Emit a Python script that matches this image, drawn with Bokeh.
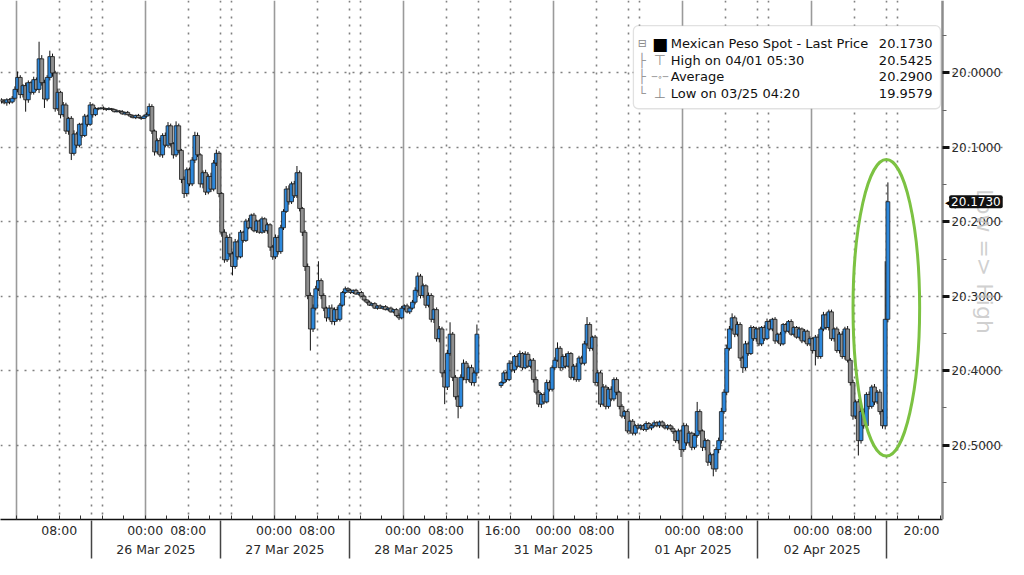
import math
from bokeh.plotting import figure
from bokeh.models import (Range1d, LinearAxis, FixedTicker, Grid, Label,
                          BoxAnnotation, ColumnDataSource)
from bokeh.embed import file_html
from bokeh.resources import INLINE

# ---------------- data (30-minute bars, USD/MXN) ----------------
# hours on a trading-time axis (0 = 25 Mar 00:00, weekend gap removed)
seg_a_start = -3.0
seg_b_start = 90.0
bar_hours = 0.5

open_a_first = 20.036
close_a = [
    20.038, 20.040, 20.036, 20.039, 20.034, 20.022, 20.006, 20.029, 20.017, 20.036,
    20.013, 20.026, 20.009, 20.022, 19.981, 20.013, 20.035, 20.006, 19.978, 20.000,
    20.048, 20.026, 20.056, 20.043, 20.078, 20.061, 20.108, 20.082, 20.097, 20.069,
    20.084, 20.058, 20.069, 20.043, 20.056, 20.048, 20.048, 20.047, 20.048, 20.049,
    20.048, 20.049, 20.052, 20.051, 20.052, 20.055, 20.053, 20.056, 20.058, 20.060,
    20.057, 20.060, 20.061, 20.058, 20.056, 20.045, 20.078, 20.106, 20.091, 20.110,
    20.084, 20.097, 20.071, 20.095, 20.110, 20.071, 20.104, 20.143, 20.162, 20.130,
    20.149, 20.117, 20.084, 20.110, 20.149, 20.134, 20.160, 20.139, 20.156, 20.121,
    20.108, 20.162, 20.214, 20.251, 20.221, 20.243, 20.260, 20.227, 20.247, 20.214,
    20.225, 20.199, 20.208, 20.191, 20.212, 20.199, 20.214, 20.196, 20.212, 20.204,
    20.234, 20.247, 20.221, 20.240, 20.208, 20.186, 20.156, 20.173, 20.149, 20.165,
    20.134, 20.182, 20.214, 20.260, 20.299, 20.344, 20.316, 20.290, 20.279, 20.299,
    20.316, 20.329, 20.316, 20.334, 20.318, 20.331, 20.312, 20.295, 20.290, 20.292,
    20.295, 20.292, 20.297, 20.295, 20.300, 20.305, 20.308, 20.312, 20.310, 20.316,
    20.313, 20.316, 20.314, 20.318, 20.316, 20.321, 20.318, 20.326, 20.329, 20.316,
    20.313, 20.321, 20.316, 20.308, 20.292, 20.273, 20.299, 20.286, 20.312, 20.299,
    20.331, 20.318, 20.357, 20.344, 20.403, 20.422, 20.377, 20.351, 20.409, 20.435,
    20.448, 20.409, 20.390, 20.412, 20.396, 20.416, 20.403, 20.351,
]
# wick lengths beyond the body, in thousandths (toward lower / higher price)
wick_lo_a = [
    2, 3, 2, 2, 3, 4, 8, 3, 2, 4,
    3, 2, 4, 3, 23, 5, 4, 3, 8, 4,
    3, 5, 2, 4, 3, 2, 3, 5, 3, 2,
    2, 3, 2, 4, 2, 2, 2, 1, 2, 1,
    2, 1, 1, 2, 1, 2, 1, 2, 1, 2,
    1, 2, 1, 2, 3, 4, 3, 2, 3, 4,
    3, 4, 5, 3, 2, 6, 3, 2, 4, 3,
    3, 4, 5, 4, 2, 3, 4, 3, 5, 4,
    5, 3, 2, 4, 3, 5, 3, 4, 3, 3,
    2, 3, 4, 2, 3, 2, 2, 3, 2, 3,
    2, 3, 4, 3, 4, 3, 4, 5, 3, 4,
    9, 3, 2, 3, 4, 4, 5, 4, 26, 3,
    3, 2, 4, 5, 3, 4, 3, 2, 3, 2,
    2, 1, 2, 1, 2, 2, 1, 2, 1, 2,
    1, 2, 1, 2, 1, 2, 1, 2, 3, 3,
    2, 3, 2, 3, 4, 5, 3, 3, 2, 4,
    3, 2, 3, 4, 3, 4, 5, 16, 3, 3,
    2, 4, 5, 3, 3, 4, 3, 13,
]
wick_hi_a = [
    3, 2, 4, 3, 2, 3, 4, 5, 4, 16,
    4, 3, 3, 2, 5, 4, 12, 3, 4, 5,
    4, 3, 5, 3, 4, 5, 9, 3, 4, 3,
    3, 2, 3, 2, 4, 2, 2, 1, 2, 2,
    1, 2, 1, 1, 2, 1, 2, 1, 2, 1,
    2, 1, 2, 1, 2, 2, 4, 5, 3, 3,
    4, 3, 3, 4, 5, 3, 4, 5, 6, 4,
    3, 3, 4, 3, 5, 6, 4, 3, 4, 3,
    4, 5, 6, 4, 3, 4, 12, 3, 4, 2,
    3, 2, 2, 3, 2, 3, 2, 2, 3, 4,
    5, 4, 3, 4, 3, 3, 2, 4, 3, 3,
    3, 4, 5, 6, 5, 29, 4, 3, 3, 5,
    4, 5, 3, 4, 5, 3, 3, 2, 2, 3,
    2, 2, 1, 2, 1, 2, 2, 1, 2, 1,
    2, 1, 2, 1, 2, 1, 2, 2, 3, 2,
    3, 2, 3, 2, 3, 3, 4, 3, 4, 3,
    4, 5, 4, 5, 6, 23, 4, 3, 5, 4,
    16, 3, 4, 5, 3, 4, 5, 4,
]

open_b_first = 20.420
close_b = [
    20.416, 20.403, 20.412, 20.390, 20.399, 20.381, 20.394, 20.377, 20.396, 20.378,
    20.394, 20.386, 20.412, 20.429, 20.445, 20.432, 20.442, 20.416, 20.425, 20.396,
    20.386, 20.370, 20.396, 20.381, 20.394, 20.377, 20.409, 20.394, 20.412, 20.383,
    20.390, 20.364, 20.338, 20.370, 20.355, 20.416, 20.403, 20.445, 20.422, 20.448,
    20.425, 20.438, 20.412, 20.429, 20.448, 20.461, 20.455, 20.481, 20.468, 20.484,
    20.474, 20.477, 20.474, 20.479, 20.471, 20.477, 20.474, 20.470, 20.474, 20.469,
    20.474, 20.477, 20.474, 20.478, 20.482, 20.494, 20.481, 20.506, 20.474, 20.497,
    20.484, 20.503, 20.487, 20.455, 20.481, 20.503, 20.494, 20.523, 20.513, 20.532,
    20.506, 20.494, 20.455, 20.429, 20.370, 20.344, 20.329, 20.351, 20.338, 20.383,
    20.396, 20.364, 20.377, 20.342, 20.357, 20.344, 20.364, 20.342, 20.357, 20.334,
    20.344, 20.331, 20.360, 20.351, 20.364, 20.338, 20.347, 20.334, 20.351, 20.342,
    20.355, 20.344, 20.360, 20.347, 20.364, 20.357, 20.373, 20.355, 20.381, 20.344,
    20.325, 20.342, 20.321, 20.357, 20.344, 20.373, 20.351, 20.381, 20.344, 20.386,
    20.416, 20.461, 20.442, 20.494, 20.455, 20.474, 20.432, 20.448, 20.422, 20.442,
    20.429, 20.455, 20.474, 20.331, 20.173,
]
wick_lo_b = [
    2, 3, 2, 4, 3, 2, 3, 4, 2, 4,
    3, 2, 3, 4, 3, 2, 3, 4, 3, 3,
    4, 8, 3, 3, 4, 3, 2, 3, 4, 3,
    3, 4, 10, 3, 2, 3, 4, 3, 4, 3,
    3, 4, 3, 3, 2, 3, 2, 3, 2, 3,
    2, 3, 2, 2, 3, 2, 2, 3, 2, 2,
    2, 3, 2, 2, 3, 2, 3, 2, 4, 3,
    3, 2, 3, 13, 3, 2, 3, 2, 3, 2,
    3, 4, 5, 4, 5, 4, 6, 3, 4, 3,
    3, 4, 3, 3, 2, 3, 3, 2, 3, 4,
    3, 2, 3, 2, 3, 2, 2, 2, 3, 2,
    2, 3, 2, 3, 2, 3, 2, 3, 4, 3,
    4, 3, 3, 3, 2, 3, 3, 4, 3, 4,
    3, 4, 3, 4, 5, 4, 3, 4, 3, 4,
    3, 4, 3, 78, 26,
]
wick_hi_b = [
    3, 2, 3, 2, 3, 4, 3, 2, 3, 2,
    2, 3, 4, 3, 4, 5, 3, 2, 3, 3,
    3, 2, 4, 3, 3, 2, 3, 4, 3, 3,
    2, 3, 3, 4, 3, 4, 5, 4, 3, 4,
    3, 3, 3, 4, 4, 3, 4, 3, 4, 3,
    3, 2, 3, 2, 3, 2, 3, 2, 2, 3,
    2, 2, 3, 2, 3, 3, 4, 10, 3, 4,
    3, 4, 3, 3, 4, 5, 4, 5, 4, 10,
    4, 5, 4, 3, 4, 3, 3, 4, 3, 4,
    7, 3, 3, 2, 3, 4, 3, 3, 3, 2,
    2, 3, 4, 3, 3, 2, 3, 2, 2, 3,
    2, 3, 3, 2, 3, 3, 4, 20, 3, 3,
    3, 3, 4, 3, 4, 3, 4, 3, 4, 3,
    4, 5, 4, 20, 4, 4, 3, 4, 3, 4,
    3, 4, 4, 5, 4,
]

# axis ticks / labels
time_tick_pos = [8, 24, 32, 48, 56, 72, 80, 90.5, 100, 108, 124, 132, 148, 156, 168.5]
time_tick_labels = ["08:00", "00:00", "08:00", "00:00", "08:00", "00:00", "08:00", "16:00",
                    "00:00", "08:00", "00:00", "08:00", "00:00", "08:00", "20:00"]
date_pos = [26, 50, 74, 100, 126, 150]
date_labels = ["26 Mar 2025", "27 Mar 2025", "28 Mar 2025", "31 Mar 2025",
               "01 Apr 2025", "02 Apr 2025"]
session_separators = [14, 38, 62, 86, 114, 138, 162]
midnight_lines = [0, 24, 48, 72, 100, 124, 148]
dotted_lines = [8, 14, 16, 32, 38, 40, 56, 62, 64, 80, 86, 92, 108, 114, 116,
                132, 138, 140, 156, 162, 164]
four_hour_ticks = list(range(0, 173, 4))
price_ticks = [20.0, 20.1, 20.2, 20.3, 20.4, 20.5]
price_tick_labels = ["20.0000", "20.1000", "20.2000", "20.3000", "20.4000", "20.5000"]
price_minor = [19.95, 20.05, 20.15, 20.25, 20.35, 20.45, 20.55]

legend_names = ["Mexican Peso Spot - Last Price", "High on 04/01 05:30",
                "Average", "Low on 03/25 04:20"]
legend_values = ["20.1730", "20.5425", "20.2900", "19.9579"]
last_price_label = "20.1730"
last_price = 20.1730

BLUE = "#2d88dc"
GREY = "#8f8f8f"
FONT = "DejaVu Sans"

X_START, X_AXIS_END, X_CANVAS_END = -2.93, 172.4, 184.7


def build(first_open, closes, wlo, whi, start):
    n = min(len(closes), len(wlo), len(whi))
    closes = closes[:n]
    opens = [first_open] + closes[:-1]
    xs = [start + bar_hours * k + bar_hours / 2 for k in range(n)]
    lows, highs, colors = [], [], []
    for o, c, a, b in zip(opens, closes, wlo[:n], whi[:n]):
        lows.append(min(o, c) - a / 1000.0)
        highs.append(max(o, c) + b / 1000.0)
        colors.append(BLUE if c < o else GREY)
    return ColumnDataSource(dict(x=xs, open=opens, close=closes, low=lows,
                                 high=highs, color=colors))


src_a = build(open_a_first, close_a, wick_lo_a, wick_hi_a, seg_a_start)
src_b = build(open_b_first, close_b, wick_lo_b, wick_hi_b, seg_b_start)

p = figure(width=1008, height=559, output_backend="svg", toolbar_location=None,
           x_range=Range1d(X_START, X_CANVAS_END), y_range=Range1d(20.6, 19.9026),
           x_axis_type=None, y_axis_type=None,
           min_border_left=0, min_border_top=0, min_border_right=0,
           min_border_bottom=0)
p.outline_line_color = None
p.background_fill_color = "white"
p.border_fill_color = "white"

# grids
p.add_layout(Grid(dimension=0, ticker=FixedTicker(ticks=midnight_lines),
                  grid_line_color="#9a9a9a", grid_line_width=1.6))
p.add_layout(Grid(dimension=0, ticker=FixedTicker(ticks=dotted_lines),
                  grid_line_color="#808080", grid_line_width=1.6,
                  grid_line_dash="2 6"))
p.add_layout(Grid(dimension=1, ticker=FixedTicker(ticks=price_ticks),
                  bounds=(X_START, X_AXIS_END),
                  grid_line_color="#808080", grid_line_width=1.6,
                  grid_line_dash="2 6"))

# candles
for src in (src_a, src_b):
    p.segment(x0="x", y0="low", x1="x", y1="high", source=src,
              line_color="#111111", line_width=1)
    p.vbar(x="x", width=0.72, top="open", bottom="close", source=src,
           fill_color="color", line_color="#1a1a1a", line_width=0.8)

# highlight ellipse
p.ellipse(x=[161.96], y=[20.3156], width=[12.4], height=[0.399],
          fill_color=None, line_color="#7cc242", line_width=3)

# axes
axR = LinearAxis(fixed_location=X_AXIS_END,
                 ticker=FixedTicker(ticks=price_ticks, minor_ticks=price_minor),
                 major_label_overrides=dict(zip(price_ticks, price_tick_labels)),
                 axis_line_color="#8c8c8c", axis_line_width=2.5,
                 major_tick_in=0, major_tick_out=7, major_tick_line_width=3,
                 major_tick_line_color="#111111",
                 minor_tick_in=0, minor_tick_out=4, minor_tick_line_color="#666666",
                 major_label_standoff=2, major_label_text_font=FONT,
                 major_label_text_font_size="12px", major_label_text_color="#2a2a2a")
p.add_layout(axR, "right")

axA = LinearAxis(ticker=FixedTicker(ticks=time_tick_pos, minor_ticks=four_hour_ticks),
                 bounds=(X_START, X_AXIS_END),
                 major_label_overrides=dict(zip(time_tick_pos, time_tick_labels)),
                 axis_line_color="#111111", axis_line_width=1.5,
                 major_tick_line_color=None, major_tick_in=0, major_tick_out=0,
                 minor_tick_in=4, minor_tick_out=0, minor_tick_line_color="#333333",
                 major_label_standoff=3, major_label_text_font=FONT,
                 major_label_text_font_size="12.5px", major_label_text_color="#2a2a2a")
p.add_layout(axA, "below")

axB = LinearAxis(ticker=FixedTicker(ticks=date_pos, minor_ticks=session_separators),
                 bounds=(X_START, X_AXIS_END),
                 major_label_overrides=dict(zip(date_pos, date_labels)),
                 axis_line_color=None, major_tick_line_color=None,
                 major_tick_in=0, major_tick_out=0,
                 minor_tick_in=20, minor_tick_out=18, minor_tick_line_color="#444444",
                 minor_tick_line_width=1.5,
                 major_label_standoff=-17, major_label_text_font=FONT,
                 major_label_text_font_size="12.5px", major_label_text_color="#2a2a2a")
p.add_layout(axB, "below")


# annotation placement helpers (reference layout -> data coordinates)
def hx(px):
    return (px - 16) / 5.458


def py(px):
    return 20 + (px - 75) / 770


# legend box
p.add_layout(BoxAnnotation(left=hx(643), right=hx(955), top=py(26), bottom=py(112),
                           fill_color="white", fill_alpha=1.0, line_color="#9a9a9a",
                           line_width=1.3, border_radius=5))
rows = [44.5, 62, 79, 96]
for r, name, val in zip(rows, legend_names, legend_values):
    p.add_layout(Label(x=hx(681), y=py(r), text=name, text_font=FONT,
                       text_font_size="13px", text_color="#111111",
                       text_baseline="middle", text_align="left"))
    p.add_layout(Label(x=hx(947), y=py(r), text=val, text_font=FONT,
                       text_font_size="13px", text_color="#111111",
                       text_baseline="middle", text_align="right"))
# legend icons
icons = [("⊟", 652, 44.5, "#888888", "11px"), ("■", 670, 44.5, "#000000", "17px"),
         ("├", 652, 62, "#999999", "13px"), ("⊤", 670, 62, "#888888", "14px"),
         ("├", 652, 79, "#999999", "13px"), ("─∘─", 670, 79, "#888888", "9px"),
         ("└", 652, 96, "#999999", "13px"), ("⊥", 670, 96, "#888888", "14px")]
for t, x0, y0, col, fs in icons:
    p.add_layout(Label(x=hx(x0), y=py(y0), text=t, text_font=FONT,
                       text_font_size=fs, text_color=col,
                       text_baseline="middle", text_align="center"))

# last price tag and axis watermark
p.add_layout(Label(x=hx(1000), y=py(270), text="Low => High", text_font=FONT,
                   text_font_size="22px", text_color="#c4c4c4", text_alpha=0.8,
                   angle=-math.pi / 2, text_align="center", text_baseline="middle"))
p.add_layout(Label(x=hx(965), y=last_price, text="◀", text_font=FONT,
                   text_font_size="14px", text_color="#000000",
                   text_align="center", text_baseline="middle"))
p.add_layout(Label(x=hx(991), y=last_price, text=last_price_label, text_font=FONT,
                   text_font_size="12px", text_color="white",
                   background_fill_color="#111111", padding=2, border_radius=2,
                   text_align="center", text_baseline="middle"))

open("out.html", "w").write(file_html(p, INLINE))
